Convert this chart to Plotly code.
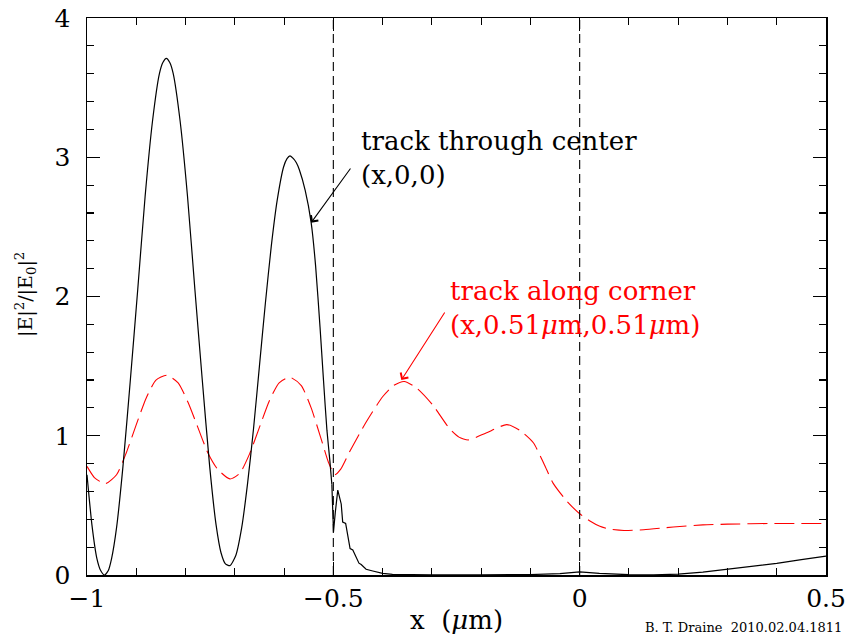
import plotly.graph_objects as go

# --- data: track through center (x,0,0) ---
x_center = [-1.0, -0.99, -0.98, -0.972, -0.9645, -0.957, -0.95, -0.94, -0.927, -0.912,
            -0.897, -0.882, -0.867, -0.853, -0.846, -0.839, -0.832, -0.825, -0.811, -0.796,
            -0.781, -0.766, -0.751, -0.738, -0.728, -0.719, -0.710, -0.698, -0.686, -0.674,
            -0.662, -0.650, -0.638, -0.626, -0.614, -0.601, -0.594, -0.588, -0.581, -0.575,
            -0.569, -0.557, -0.545, -0.536, -0.527, -0.520, -0.513, -0.507, -0.503,
            -0.4997, -0.496, -0.491, -0.484, -0.481, -0.475, -0.466, -0.4605, -0.448, -0.4435,
            -0.4335, -0.42, -0.40, -0.38, -0.35, -0.30, -0.20, -0.10, -0.04, 0.0,
            0.04, 0.10, 0.15, 0.20, 0.25, 0.30, 0.35, 0.40, 0.45, 0.50]
y_center = [0.72, 0.36, 0.12, 0.03, 0.0, 0.03, 0.12, 0.34, 0.78, 1.40,
            2.05, 2.72, 3.26, 3.60, 3.68, 3.71, 3.68, 3.60, 3.26, 2.72,
            2.05, 1.40, 0.78, 0.36, 0.16, 0.08, 0.067, 0.14, 0.34, 0.66,
            1.05, 1.50, 1.95, 2.36, 2.69, 2.93, 2.99, 3.01, 2.99, 2.96,
            2.91, 2.76, 2.53, 2.22, 1.78, 1.40, 1.04, 0.82, 0.65,
            0.31, 0.45, 0.61, 0.51, 0.38, 0.37, 0.19, 0.18, 0.085, 0.075,
            0.041, 0.029, 0.012, 0.005, 0.002, 0.001, 0.001, 0.003, 0.010, 0.022,
            0.012, 0.002, 0.001, 0.006, 0.020, 0.040, 0.060, 0.084, 0.110, 0.136]

# --- data: track along corner (x,0.51um,0.51um) ---
x_corner = [-1.0, -0.985, -0.963, -0.94, -0.92, -0.90, -0.88, -0.86, -0.838, -0.815,
            -0.795, -0.775, -0.755, -0.735, -0.71, -0.69, -0.67, -0.65, -0.63, -0.61,
            -0.588, -0.565, -0.545, -0.525, -0.51, -0.497, -0.485, -0.467, -0.433, -0.40,
            -0.378, -0.356, -0.33, -0.298, -0.264, -0.245, -0.226, -0.19, -0.148, -0.122,
            -0.094, -0.0714, -0.054, -0.026, 0.0, 0.02, 0.041, 0.06, 0.09, 0.13,
            0.19, 0.25, 0.30, 0.39, 0.50]
y_corner = [0.78, 0.70, 0.655, 0.72, 0.88, 1.08, 1.27, 1.40, 1.435, 1.38,
            1.24, 1.06, 0.88, 0.76, 0.69, 0.73, 0.87, 1.06, 1.25, 1.38,
            1.42, 1.36, 1.20, 0.98, 0.81, 0.72, 0.76, 0.885, 1.10, 1.28,
            1.36, 1.39, 1.34, 1.22, 1.05, 0.99, 0.97, 1.02, 1.08, 1.04,
            0.95, 0.79, 0.66, 0.53, 0.44, 0.39, 0.35, 0.33, 0.32, 0.325,
            0.345, 0.36, 0.365, 0.37, 0.37]

# boundaries marked by dashed vertical lines
x_boundaries = [-0.5, 0.0]

x_ticks = [-1, -0.5, 0, 0.5]
x_ticklabels = ["\u22121", "\u22120.5", "0", "0.5"]
y_ticks = [0, 1, 2, 3, 4]

FONT = "DejaVu Serif"

# split the center track: smooth oscillations, then the jagged tail past the boundary
split = x_center.index(-0.503)

fig = go.Figure()

fig.add_trace(go.Scatter(
    x=x_corner, y=y_corner, mode="lines",
    line=dict(color="#ff0000", width=1.1, dash="20px,7px", shape="spline", smoothing=0.6),
    showlegend=False, hoverinfo="skip"))

fig.add_trace(go.Scatter(
    x=x_center[:split + 1], y=y_center[:split + 1], mode="lines",
    line=dict(color="black", width=1.2, shape="spline", smoothing=0.6),
    showlegend=False, hoverinfo="skip"))
fig.add_trace(go.Scatter(
    x=x_center[split:], y=y_center[split:], mode="lines",
    line=dict(color="black", width=1.2, shape="linear"),
    showlegend=False, hoverinfo="skip"))

for xb in x_boundaries:
    fig.add_shape(type="line", xref="x", yref="paper", x0=xb, x1=xb, y0=0, y1=1,
                  line=dict(color="black", width=1.1, dash="9px,5px"))

axis_common = dict(
    showline=True, linecolor="black", linewidth=1.5, mirror="ticks",
    ticks="inside", ticklen=13, tickwidth=1.1, tickcolor="black",
    showgrid=False, zeroline=False, automargin=False,
    ticklabeloverflow="allow",
    tickfont=dict(family=FONT, size=25, color="black"),
)

fig.update_xaxes(range=[-1, 0.5], tickvals=x_ticks, ticktext=x_ticklabels,
                 minor=dict(dtick=0.1, ticks="inside", ticklen=7, tickwidth=1.1, tickcolor="black"),
                 **axis_common)
fig.update_yaxes(range=[0, 4], tickvals=y_ticks,
                 minor=dict(dtick=0.2, ticks="inside", ticklen=7, tickwidth=1.1, tickcolor="black"),
                 ticklabelstandoff=10,
                 **axis_common)

annotations = [
    # axis titles
    dict(text="x  (<i>\u03bc</i>m)", xref="paper", yref="paper", x=0.50, y=-0.081,
         showarrow=False, font=dict(family=FONT, size=26, color="black"),
         xanchor="center", yanchor="middle"),
    dict(text="|E|<sup>2</sup>/|E<sub>0</sub>|<sup>2</sup>", xref="paper", yref="paper",
         x=-0.083, y=0.504, textangle=-90, showarrow=False,
         font=dict(family=FONT, size=19, color="black"), xanchor="center", yanchor="middle"),
    # credit
    dict(text="B. T. Draine  2010.02.04.1811", xref="paper", yref="paper", x=1.024, y=-0.095,
         showarrow=False, font=dict(family=FONT, size=13, color="black"),
         xanchor="right", yanchor="middle"),
    # labels
    dict(text="track through center<br>(x,0,0)", xref="x", yref="y", x=-0.447, y=3.24,
         showarrow=False, align="left", xanchor="left", yanchor="top",
         font=dict(family=FONT, size=26, color="black")),
    dict(text="track along corner<br>(x,0.51<i>\u03bc</i>m,0.51<i>\u03bc</i>m)", xref="x", yref="y",
         x=-0.2663, y=2.16, showarrow=False, align="left", xanchor="left", yanchor="top",
         font=dict(family=FONT, size=26, color="#ff0000")),
    # arrows
    dict(text="", xref="x", yref="y", x=-0.545, y=2.53, axref="x", ayref="y",
         ax=-0.463, ay=2.93, showarrow=True, arrowhead=4, arrowsize=1.6, arrowwidth=1.1,
         arrowcolor="black", standoff=0, startstandoff=0),
    dict(text="", xref="x", yref="y", x=-0.362, y=1.40, axref="x", ayref="y",
         ax=-0.272, ay=1.896, showarrow=True, arrowhead=4, arrowsize=1.6, arrowwidth=1.1,
         arrowcolor="#ff0000", standoff=0, startstandoff=0),
]

fig.update_layout(
    width=848, height=638,
    margin=dict(l=87, r=22, t=18, b=63),
    paper_bgcolor="white", plot_bgcolor="white",
    annotations=annotations,
    showlegend=False,
)

# remove the default page margin so the figure fills the window exactly
fig.write_html("out.html",
               config={"displayModeBar": False, "staticPlot": True},
               post_script="document.body.style.margin='0';document.body.style.overflow='hidden';")
